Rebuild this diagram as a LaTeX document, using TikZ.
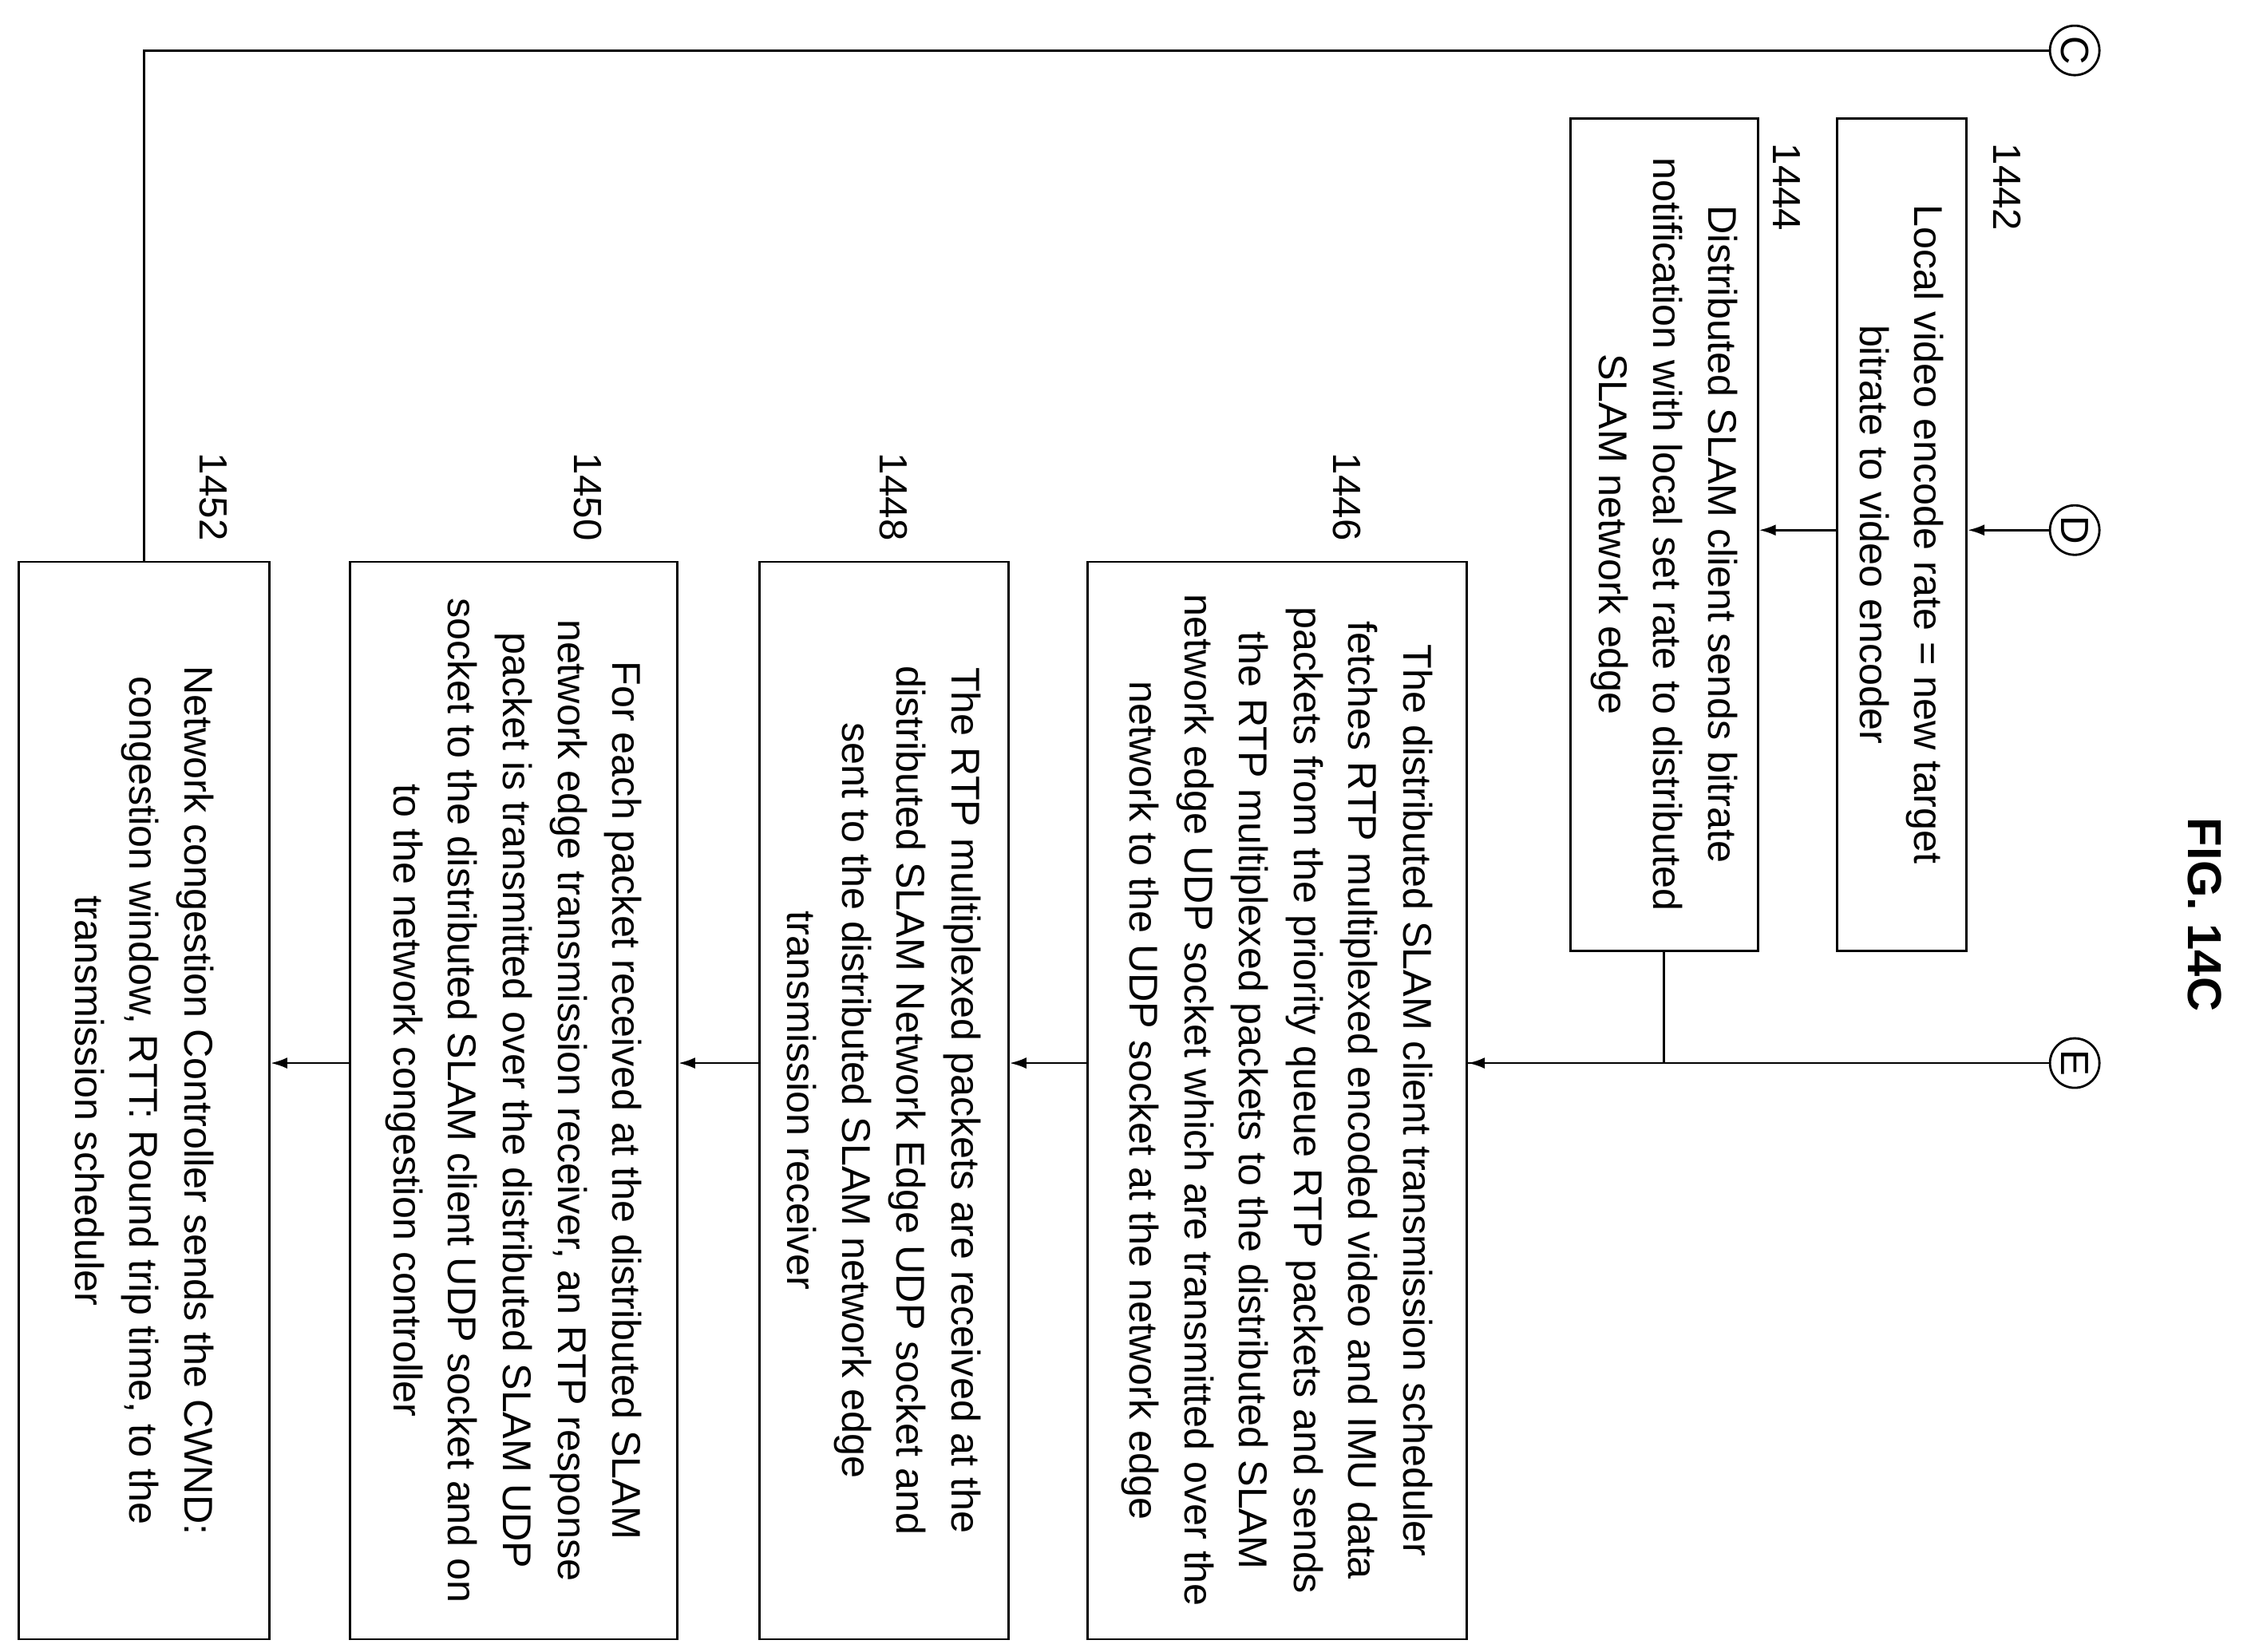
\documentclass[tikz,border=0pt]{standalone}
\usepackage{fontspec}
\setmainfont{Liberation Sans}
\usetikzlibrary{arrows.meta}
\tikzset{
  stepbox/.style={draw, thick, rotate=-90, align=center, inner sep=2pt,
    font=\fontsize{14.3}{19.5}\selectfont},
  conn/.style={circle, draw, thick, minimum size=0.62cm, inner sep=0pt,
    rotate=-90, font=\fontsize{14}{16}\selectfont},
  lbl/.style={rotate=-90, font=\fontsize{14}{16}\selectfont},
  arr/.style={thick, -{Latex[length=6pt,width=4pt]}},
  ln/.style={thick}
}
\begin{document}
\begin{tikzpicture}[x=0.01805cm,y=-0.01805cm]
		\useasboundingbox (0,0) rectangle (1559.6,1146.8);
		% Anschluesse
		\node[conn] (C) at (1440,35) {C};
		\node[conn] (D) at (1440,368) {D};
		\node[conn] (E) at (1440,738) {E};
		\node[lbl, font=\bfseries\fontsize{17}{19}\selectfont] (fig) at (1530,635) {FIG. 14C};
		
		% Schritte
		\node[stepbox, minimum width=10.43cm, minimum height=1.62cm] (b1442) at (1320,371)
		{Local video encode rate = new target\\ bitrate to video encoder};
		\node[stepbox, minimum width=10.43cm, minimum height=2.35cm] (b1444) at (1155,371)
		{Distributed SLAM client sends bitrate\\ notification with local set rate to distributed\\ SLAM network edge};
		\node[stepbox, minimum width=13.5cm, minimum height=4.75cm] (b1446) at (886.5,764)
		{The distributed SLAM client transmission scheduler\\ fetches RTP multiplexed encoded video and IMU data\\ packets from the priority queue RTP packets and sends\\ the RTP multiplexed packets to the distributed SLAM\\ network edge UDP socket which are transmitted over the\\ network to the UDP socket at the network edge};
		\node[stepbox, minimum width=13.5cm, minimum height=3.12cm] (b1448) at (613.5,764)
		{The RTP multiplexed packets are received at the\\ distributed SLAM Network Edge UDP socket and\\ sent to the distributed SLAM network edge\\ transmission receiver};
		\node[stepbox, minimum width=13.5cm, minimum height=4.10cm] (b1450) at (356.5,764)
		{For each packet received at the distributed SLAM\\ network edge transmission receiver, an RTP response\\ packet is transmitted over the distributed SLAM UDP\\ socket to the distributed SLAM client UDP socket and on\\ to the network congestion controller};
		\node[stepbox, minimum width=13.5cm, minimum height=3.14cm] (b1452) at (100,764)
		{Network congestion Controller sends the CWND:\\ congestion window, RTT: Round trip time, to the\\ transmission scheduler};
		
		% Nummern
		\node[lbl] (n1442) at (1393,130) {1442};
		\node[lbl] (n1444) at (1240,130) {1444};
		\node[lbl] (n1446) at (935,345) {1446};
		\node[lbl] (n1448) at (620,345) {1448};
		\node[lbl] (n1450) at (408,345) {1450};
		\node[lbl] (n1452) at (148,345) {1452};
		
		% Verbindungen
		\draw[ln] (C.south) -| (b1452.west);
		\draw[arr] (D.south) -- (D -| b1442.north);
		\draw[arr] (D -| b1442.south) -- (D -| b1444.north);
		\draw[arr] (E.south) -- (E -| b1446.north);
		\draw[ln] (b1444.east) |- (E -| b1446.north);
		\draw[arr] (E -| b1446.south) -- (E -| b1448.north);
		\draw[arr] (E -| b1448.south) -- (E -| b1450.north);
		\draw[arr] (E -| b1450.south) -- (E -| b1452.north);
	\end{tikzpicture}
\end{document}
